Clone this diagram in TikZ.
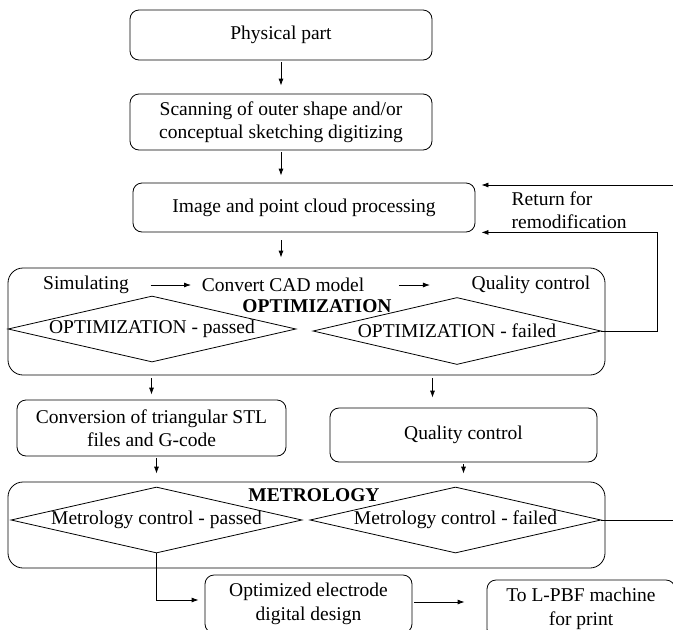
\documentclass[tikz,border=0pt]{standalone}
\usepackage{fontspec}
\setmainfont{Liberation Serif}
\usetikzlibrary{shapes.geometric, positioning, arrows.meta}

\begin{document}
\begin{tikzpicture}[x=1pt, y=-1pt, on grid, >={Latex[length=7pt,width=5pt]},
            font=\fontsize{19.5}{23.5}\selectfont, line width=0.8pt,
            proc/.style={draw, rounded corners=9pt, align=center},
            group/.style={draw, rounded corners=15pt},
            dec/.style={draw, diamond, minimum width=288pt, minimum height=66pt, inner sep=0pt},
            title/.style={font=\fontsize{19.5}{23.5}\selectfont\bfseries}]
            \useasboundingbox (0,0) rectangle (673,630);
            \node [proc, minimum width=302pt, minimum height=50pt] (phys) at (281,35) {Physical part};
            \node [proc, minimum width=302pt, minimum height=56pt] [below =87pt of phys] (scan) {Scanning of outer shape and/or\\conceptual sketching digitizing};
            \node [proc, minimum width=342pt, minimum height=49pt] (img) at (304,207.5) {Image and point cloud processing};
            \node [align=left, anchor=west] (ret) at (508,210) {Return for\\remodification};
            % optimization block
            \node [group, minimum width=597pt, minimum height=107pt] (opt) at (306.5,321.5) {};
            \node (sim) at (86,285) {Simulating};
            \node (cad) at (283,285) {Convert CAD model};
            \node (qcopt) at (531,285) {Quality control};
            \node [dec] (opass) at (152,329) {};
            \node [dec, minimum height=67pt] (ofail) at (457,331) {};
            \node [title] (optt) at (317,306) {OPTIMIZATION};
            \node (opasst) at (opass) {OPTIMIZATION - passed};
            \node (ofailt) at (ofail) {OPTIMIZATION - failed};
            \node [proc, minimum width=269pt, minimum height=56pt] (conv) at (151.5,428) {Conversion of triangular STL\\files and G-code};
            \node [proc, minimum width=267pt, minimum height=54pt] (qc) at (463.5,435) {Quality control};
            % metrology block
            \node [group, minimum width=597pt, minimum height=86pt] (metro) at (306.5,525) {};
            \node [dec, minimum width=291pt] (mpass) at (156.5,520) {};
            \node [dec, minimum width=291pt] (mfail) at (455.5,520) {};
            \node [title] (metrot) at (314,495) {METROLOGY};
            \node (mpasst) at (mpass) {Metrology control - passed};
            \node (mfailt) at (mfail) {Metrology control - failed};
            \node [proc, minimum width=207pt, minimum height=58pt] (elec) at (308.5,604) {Optimized electrode\\digital design};
            \node [proc, minimum width=188pt, minimum height=58pt] (lpbf) at (581,609) {To L-PBF machine\\for print};
            \coordinate (back) at (657,0);
            \coordinate (inlet) at (690,185);
            \coordinate (outlet) at (690,520);
            \path[->]
            	(phys) edge [shorten <=2pt, shorten >=8pt] (scan)
            	(scan) edge [shorten <=2pt, shorten >=7pt] (scan.south |- img.north)
            	(img.south -| scan.south) edge [shorten <=8pt, shorten >=10pt] (scan.south |- opt.north)
            	(sim) edge [shorten <=18pt, shorten >=7pt] (cad)
            	(cad) edge [shorten <=31pt, shorten >=38pt] (qcopt)
            	(opt.south -| conv.north) edge [shorten <=3pt, shorten >=5pt] (conv.north)
            	([xshift=-31pt]qc.north |- opt.south) edge [shorten <=3pt, shorten >=10pt] ([xshift=-31pt]qc.north)
            	(conv.south -| mpass.north) edge [shorten <=2pt, shorten >=8pt] (mpass.north |- metro.north)
            	(qc.south) edge [shorten <=2pt, shorten >=8pt] (qc.south |- metro.north)
            	(inlet) edge [shorten >=6pt] (inlet -| img.east)
            	([yshift=2pt]elec.east) edge [shorten <=2pt, shorten >=22pt] ([yshift=2pt]elec.east -| lpbf.west);
            \draw[->, shorten >=6pt] (ofail.east) -- (ofail.east -| back) |- (img.south east);
            \draw (mfail.east) -- (outlet);
            \draw[->, shorten >=6pt] (mpass.south) |- ([yshift=4pt]elec.west);
\end{tikzpicture}
\end{document}
